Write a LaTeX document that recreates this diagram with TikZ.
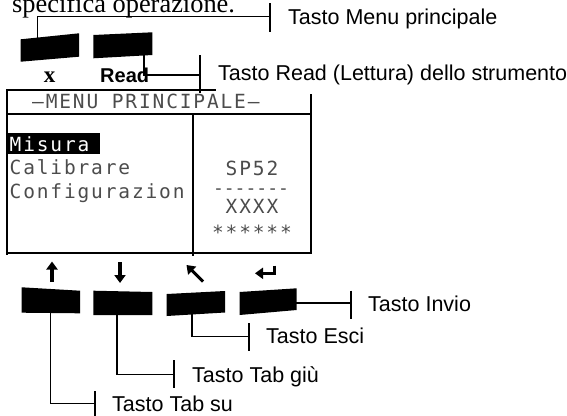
\documentclass[tikz,border=0pt]{standalone}
\usepackage{fontspec}
\setmainfont{Liberation Sans}
\newfontfamily\docserif{Liberation Serif}
\newfontfamily\lcdfont[LetterSpace=9.5]{DejaVu Sans Mono}
\newfontfamily\lcdtight{DejaVu Sans Mono}
\usetikzlibrary{arrows.meta}
\definecolor{lcd}{gray}{0.3}

\begin{document}
\begin{tikzpicture}[x=1pt,y=-1pt,
  keycap/.style={fill=black,draw=none},
  frame/.style={line width=1.9pt,line cap=rect},
  leader/.style={line width=1.2pt},
  tickmark/.style={line width=1.2pt},
  callout/.style={anchor=base west,inner sep=0pt,font=\fontsize{21.5}{25}\selectfont},
  lcdtext/.style={anchor=base west,inner sep=0pt,text=lcd,font=\lcdfont\fontsize{19.5}{20}\selectfont},
  lcdmid/.style={lcdtext,anchor=base},
  sym/.style={line width=3.1pt,-{Triangle[length=8pt,width=11pt]}}
]
\useasboundingbox (0,0) rectangle (567,415);
\clip (0,0) rectangle (567,415);

% running text above the panel
\node[anchor=base west,inner sep=0pt,font=\docserif\fontsize{26.4}{30}\selectfont] (intro) at (12,12.5) {specifica operazione.};

% upper keys
\fill[keycap] (20.7,39.3) -- (79,33.3) -- (79,56.7) -- (20.7,61.7) -- cycle;
\fill[keycap] (93.3,35) -- (152.3,32.3) -- (152.3,55) -- (93.3,58.3) -- cycle;
\coordinate (menuK) at (37.3,38);
\coordinate (readK) at (144,55);
\node[anchor=base,inner sep=0pt,font=\docserif\fontsize{23}{24}\selectfont\bfseries] (xkey) at (49.5,82.5) {x};
\node[anchor=base west,inner sep=0pt,font=\fontsize{20}{22}\selectfont\bfseries] (readkey) at (100,82) {Read};

% display frame
\draw[frame] (7,90) -- (215,90);
\draw[frame] (7,90) -- (7,254);
\draw[frame] (7,114) -- (311,114);
\draw[frame] (311,95) -- (311,253);
\draw[frame] (7,253) -- (311,253);
\draw[frame] (193,114) -- (193,255);

% display contents
\fill (6,133) rectangle (100,154);
\node[lcdtext] (title) at (32,108) {–MENU PRINCIPALE–};
\node[lcdtext,text=white] (m1) at (9.5,151) {Misura};
\node[lcdtext] (m2) at (9.5,174.5) {Calibrare};
\node[lcdtext] (m3) at (9.5,198) {Configurazion};
\node[lcdmid] (r1) at (252,175.5) {SP52};
\node[lcdmid,font=\lcdtight\fontsize{18}{20}\selectfont] (r2) at (251,194) {-------};
\node[lcdmid] (r3) at (252,213.5) {XXXX};
\node[lcdmid] (r4) at (252,239) {******};

% arrow symbols above the lower keys
\draw[sym] (52,282) -- (52,261.5);
\draw[sym] (120,262) -- (120,283);
\draw[sym] (203,281.5) -- (186.5,265);
\draw[sym] (274.5,265.5) -- (274.5,273.3) -- (255,273.3);

% lower keys
\fill[keycap] (21.7,287.3) -- (80,290.7) -- (80,313.3) -- (21.7,312.7) -- cycle;
\fill[keycap] (93.3,290.7) -- (152.3,292) -- (152.3,315) -- (93.3,315) -- cycle;
\fill[keycap] (166.7,294) -- (225,291) -- (225,312.5) -- (166.7,316) -- cycle;
\fill[keycap] (239.5,292) -- (296.7,288.3) -- (296.7,310) -- (239.5,315) -- cycle;
\coordinate (suK) at (50.5,312);
\coordinate (giuK) at (117,314);
\coordinate (esciK) at (192,314);
\coordinate (invioK) at (296,303);

% callout ends
\coordinate (tMenu) at (270,16.5);
\coordinate (tRead) at (200,75);
\coordinate (tInvio) at (351,303);
\coordinate (tEsci) at (249,336.5);
\coordinate (tGiu) at (174,374.5);
\coordinate (tSu) at (95,403.5);

% callout lines
\draw[leader] (menuK) |- (tMenu);
\draw[leader] (readK) |- (tRead);
\draw[leader] (invioK) -- (tInvio);
\draw[leader] (esciK) |- (tEsci);
\draw[leader] (giuK) |- (tGiu);
\draw[leader] (suK) |- (tSu);

\draw[tickmark] (tMenu) ++(0,-13.5) -- ++(0,28.5);
\draw[tickmark] (tRead) ++(0,-20) -- ++(0,38);
\draw[tickmark] (tInvio) ++(0,-12.5) -- ++(0,28.5);
\draw[tickmark] (tEsci) ++(0,-13.5) -- ++(0,27.5);
\draw[tickmark] (tGiu) ++(0,-14.5) -- ++(0,28);
\draw[tickmark] (tSu) ++(0,-12.5) -- ++(0,26);

% callout texts
\node[callout] (lMenu) at (288,24) {Tasto Menu principale};
\node[callout] (lRead) at (218,80) {Tasto Read (Lettura) dello strumento};
\node[callout] (lInvio) at (368,311) {Tasto Invio};
\node[callout] (lEsci) at (266,343.5) {Tasto Esci};
\node[callout] (lGiu) at (192,382) {Tasto Tab giù};
\node[callout] (lSu) at (112,411) {Tasto Tab su};
\end{tikzpicture}
\end{document}
